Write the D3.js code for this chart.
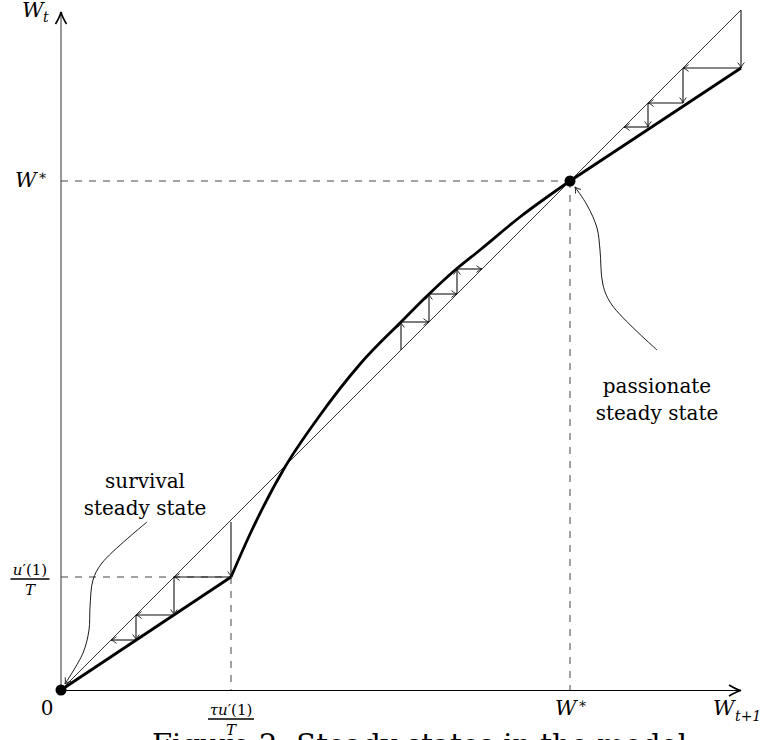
<!DOCTYPE html>
<html>
<head>
<meta charset="utf-8">
<script src="https://cdn.jsdelivr.net/npm/d3@7"></script>
<style>
  body { margin: 0; background: #fff; }
  text { font-family: "DejaVu Serif", "Liberation Serif", serif; fill: #000; }
  .math { font-style: italic; }
</style>
</head>
<body>
<div class="chart"></div>
<script>
// data in chart units (W_{t+1} on x, W_t on y)
const diagonal = [[0, 0], [680, 680]];
const lowBranch = [[0, 0], [170, 113]];
const midBranch = [[170, 113], [190, 158], [224, 223], [257, 272], [300, 327], [340, 368],
                   [366, 394], [393, 419], [419, 440], [459, 473], [509, 509]];
const highBranch = [[509, 509], [680, 622]];

const lowSteps = [[170, 168], [170, 113], [113, 113], [113, 75], [75, 75], [75, 50], [50, 50]];
const midSteps = [[340, 340], [340, 368], [368, 368], [368, 396], [396, 396], [396, 421], [421, 421]];
const highSteps = [[680, 680], [680, 622], [622, 622], [622, 587], [587, 587], [587, 563], [563, 563]];

const steadyStates = [[0, 0], [509, 509]];
const guides = [
  [[0, 509], [509, 509]], [[509, 509], [509, 0]],
  [[0, 113], [170, 113]], [[170, 113], [170, 0]]
];
const survivalPin = [[86, 168], [41, 127], [32, 110], [29, 83], [28, 60], [22, 37], [4, 6]];
const passionPin = [[596, 340], [551, 385], [542, 405], [539, 440], [536, 462], [526, 485], [514, 503]];

let w = 764, h = 740;
let x = d3.scaleLinear().domain([0, 680]).range([61, 741]);
let y = d3.scaleLinear().domain([0, 680]).range([690, 10]);

let svg = d3.select('.chart').append('svg')
  .attr('width', w)
  .attr('height', h);

let defs = svg.append('defs');
defs.append('marker')
  .attr('id', 'head')
  .attr('markerUnits', 'userSpaceOnUse')
  .attr('viewBox', '-7 -5 8 10')
  .attr('markerWidth', 8).attr('markerHeight', 10)
  .attr('refX', 0).attr('refY', 0)
  .attr('orient', 'auto')
  .append('path')
    .attr('d', 'M-5.5,-3.4 C-3.5,-1.6 -1.2,-0.4 0,0 C-1.2,0.4 -3.5,1.6 -5.5,3.4')
    .attr('fill', 'none')
    .attr('stroke', '#111')
    .attr('stroke-width', 0.9);
defs.append('marker')
  .attr('id', 'bighead')
  .attr('markerUnits', 'userSpaceOnUse')
  .attr('viewBox', '-14 -7 16 14')
  .attr('markerWidth', 16).attr('markerHeight', 14)
  .attr('refX', 0).attr('refY', 0)
  .attr('orient', 'auto')
  .append('path')
    .attr('d', 'M-12,-5.5 C-7,-2.5 -3,-0.7 0,0 C-3,0.7 -7,2.5 -12,5.5')
    .attr('fill', 'none')
    .attr('stroke', '#000')
    .attr('stroke-width', 1.6);

let line = d3.line().x(d => x(d[0])).y(d => y(d[1]));

// axes
svg.append('line')
  .attr('x1', x(0)).attr('y1', y(0)).attr('x2', x(0)).attr('y2', y(678))
  .attr('stroke', '#333').attr('stroke-width', 1)
  .attr('marker-end', 'url(#bighead)');
svg.append('line')
  .attr('x1', x(0)).attr('y1', y(0) + 0.5).attr('x2', x(680)).attr('y2', y(0) + 0.5)
  .attr('stroke', '#000').attr('stroke-width', 1.1)
  .attr('marker-end', 'url(#bighead)');

// dashed guides
svg.selectAll('.guide')
  .data(guides)
  .enter().append('path')
    .attr('class', 'guide')
    .attr('d', line)
    .attr('fill', 'none')
    .attr('stroke', '#444')
    .attr('stroke-width', 1)
    .attr('stroke-dasharray', '7,7');

// 45 degree line
svg.append('path')
  .attr('d', line(diagonal))
  .attr('fill', 'none').attr('stroke', '#000').attr('stroke-width', 0.8);

// law of motion
[lowBranch, highBranch].forEach(seg => {
  svg.append('path')
    .attr('d', line(seg))
    .attr('fill', 'none').attr('stroke', '#000').attr('stroke-width', 2.8);
});
let smooth = d3.line().x(d => x(d[0])).y(d => y(d[1])).curve(d3.curveMonotoneX);
svg.append('path')
  .attr('d', smooth(midBranch))
  .attr('fill', 'none').attr('stroke', '#000').attr('stroke-width', 2.8);

// cobweb arrows
[lowSteps, midSteps, highSteps].forEach(steps => {
  svg.selectAll(null)
    .data(d3.pairs(steps))
    .enter().append('line')
      .attr('x1', d => x(d[0][0])).attr('y1', d => y(d[0][1]))
      .attr('x2', d => x(d[1][0])).attr('y2', d => y(d[1][1]))
      .attr('stroke', '#111')
      .attr('stroke-width', 1.1)
      .attr('marker-end', 'url(#head)');
});

// steady states
svg.selectAll('.ss')
  .data(steadyStates)
  .enter().append('circle')
    .attr('class', 'ss')
    .attr('cx', d => x(d[0])).attr('cy', d => y(d[1]))
    .attr('r', 5.5)
    .attr('fill', '#000');

// pins
let pinLine = d3.line().x(d => x(d[0])).y(d => y(d[1])).curve(d3.curveCatmullRom);
[survivalPin, passionPin].forEach(p => {
  svg.append('path')
    .attr('d', pinLine(p))
    .attr('fill', 'none').attr('stroke', '#000').attr('stroke-width', 0.9)
    .attr('marker-end', 'url(#head)');
});

// labels
function label(tx, ty, str, size, cls, anchor) {
  return svg.append('text')
    .attr('x', tx).attr('y', ty)
    .attr('class', cls || null)
    .attr('text-anchor', anchor || 'start')
    .attr('font-size', size)
    .text(str);
}
function fraction(cx, top, parts, width) {
  let t = svg.append('text')
    .attr('x', cx).attr('y', top + 13)
    .attr('text-anchor', 'middle')
    .attr('font-size', 15);
  parts.forEach(p => t.append('tspan').attr('class', p[1] ? 'math' : null).text(p[0]));
  svg.append('line')
    .attr('x1', cx - width / 2).attr('x2', cx + width / 2)
    .attr('y1', top + 17).attr('y2', top + 17)
    .attr('stroke', '#000').attr('stroke-width', 1.3);
  label(cx, top + 33, 'T', 15, 'math', 'middle');
}

label(22, 17, 'W', 21, 'math');
label(43, 22, 't', 14, 'math');

label(15, 187, 'W', 21, 'math');
label(38, 180, '∗', 14);

fraction(30, 562, [['u', true], ['′(1)', false]], 39);

label(47, 715, '0', 20, null, 'middle');

fraction(231, 702, [['τu', true], ['′(1)', false]], 46);

label(555, 715, 'W', 21, 'math');
label(578, 708, '∗', 14);

label(713, 715, 'W', 21, 'math');
label(735, 721, 't+1', 14, 'math');

label(145, 488, 'survival', 20, null, 'middle');
label(145, 515, 'steady state', 20, null, 'middle');

label(657, 393, 'passionate', 20, null, 'middle');
label(657, 420, 'steady state', 20, null, 'middle');

label(152, 755, 'Figure 2: Steady states in the model', 29)
  .attr('textLength', 535)
  .attr('lengthAdjust', 'spacing');
</script>
</body>
</html>
